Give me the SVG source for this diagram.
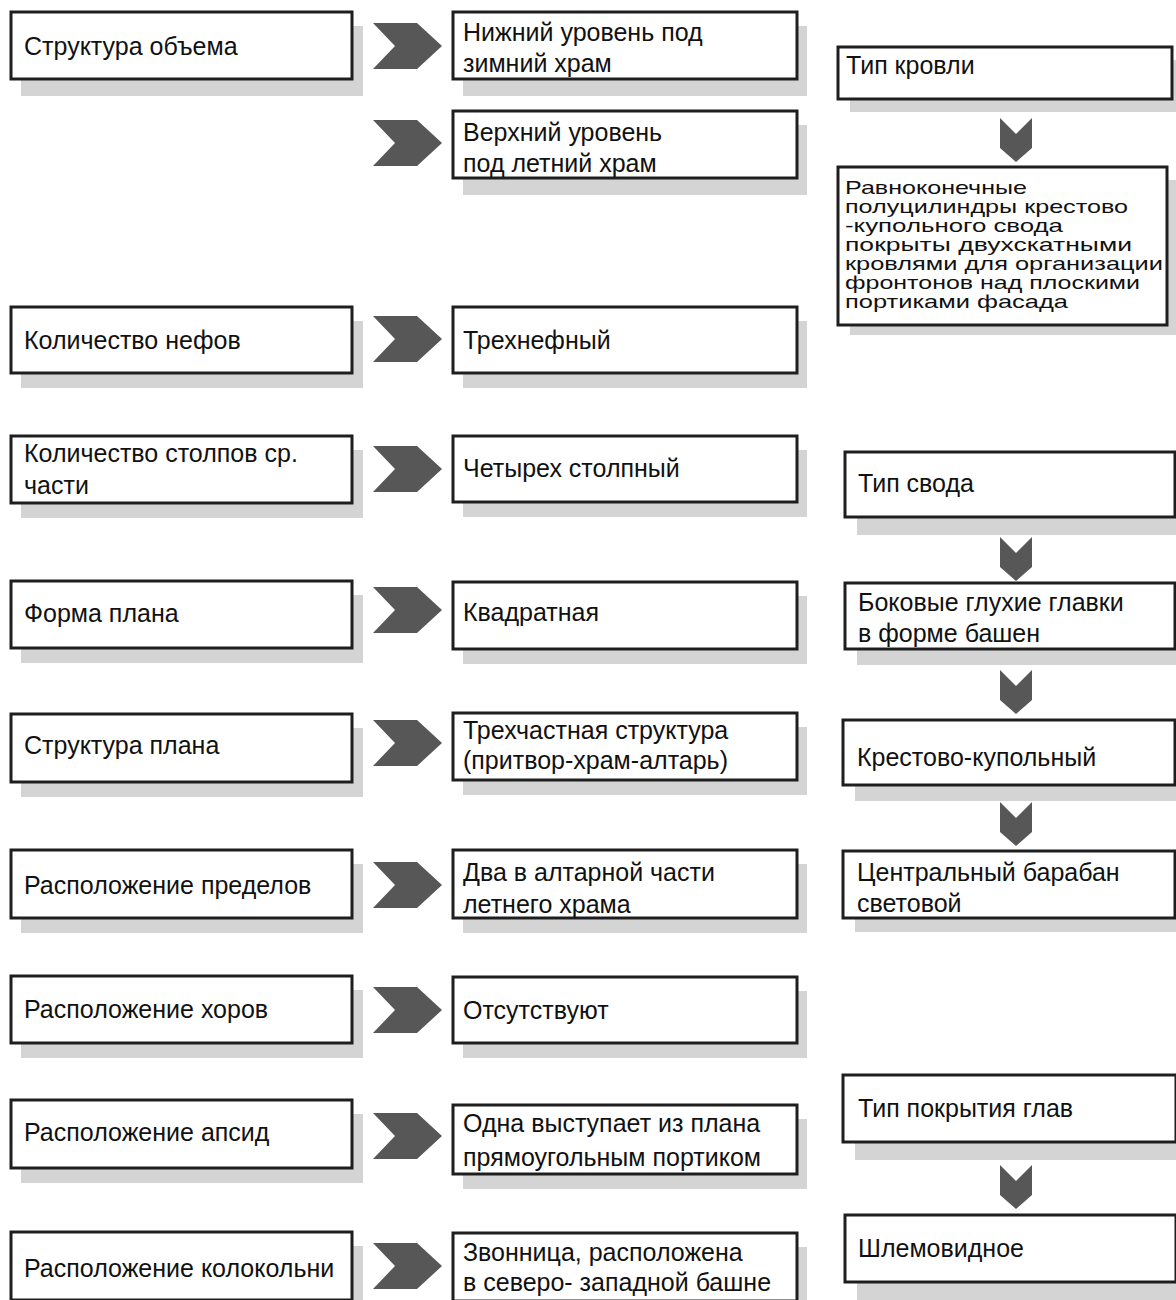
<svg xmlns="http://www.w3.org/2000/svg" width="1176" height="1300" viewBox="0 0 1176 1300">
<defs>
<style>
.sh{fill:#d4d4d4}
.bx{fill:#fff;stroke:#1e1e1e;stroke-width:3}
.t{font-family:"Liberation Sans","DejaVu Sans",sans-serif;font-size:25px;fill:#111}
.p{font-family:"Liberation Sans","DejaVu Sans",sans-serif;font-size:19px;fill:#111}
.ar{fill:#575757}
</style>
<path id="rc" d="M0 0H44L69 23L44 46H0L22 23Z"/>
<path id="dc" d="M0 0L16 16L32 0V30L16 44L0 30Z"/>
</defs>
<rect width="1176" height="1300" fill="#fff"/>

<g id="connectors" class="ar">
<use href="#rc" x="373" y="23"/>
<use href="#rc" x="373" y="120"/>
<use href="#rc" x="373" y="316"/>
<use href="#rc" x="373" y="446"/>
<use href="#rc" x="373" y="587"/>
<use href="#rc" x="373" y="720"/>
<use href="#rc" x="373" y="862"/>
<use href="#rc" x="373" y="987"/>
<use href="#rc" x="373" y="1113"/>
<use href="#rc" x="373" y="1243"/>
<use href="#dc" x="1000" y="118"/>
<use href="#dc" x="1000" y="537"/>
<use href="#dc" x="1000" y="670"/>
<use href="#dc" x="1000" y="802"/>
<use href="#dc" x="1000" y="1165"/>
</g>

<g id="l1"><rect class="sh" x="21" y="26" width="342" height="70"/><rect class="bx" x="11" y="12" width="341" height="67"/><text class="t" x="24" y="55">Структура объема</text></g>
<g id="l2"><rect class="sh" x="21" y="321" width="342" height="67"/><rect class="bx" x="11" y="307" width="341" height="66"/><text class="t" x="24" y="349">Количество нефов</text></g>
<g id="l3"><rect class="sh" x="21" y="450" width="342" height="68"/><rect class="bx" x="11" y="436" width="341" height="67"/><text class="t" x="24" y="462">Количество столпов ср.</text><text class="t" x="24" y="494">части</text></g>
<g id="l4"><rect class="sh" x="21" y="595" width="342" height="68"/><rect class="bx" x="11" y="581" width="341" height="67"/><text class="t" x="24" y="622">Форма плана</text></g>
<g id="l5"><rect class="sh" x="21" y="728" width="342" height="69"/><rect class="bx" x="11" y="714" width="341" height="68"/><text class="t" x="24" y="754">Структура плана</text></g>
<g id="l6"><rect class="sh" x="21" y="864" width="342" height="69"/><rect class="bx" x="11" y="850" width="341" height="68"/><text class="t" x="24" y="894">Расположение пределов</text></g>
<g id="l7"><rect class="sh" x="21" y="990" width="342" height="68"/><rect class="bx" x="11" y="976" width="341" height="67"/><text class="t" x="24" y="1018">Расположение хоров</text></g>
<g id="l8"><rect class="sh" x="21" y="1114" width="342" height="69"/><rect class="bx" x="11" y="1100" width="341" height="68"/><text class="t" x="24" y="1141">Расположение апсид</text></g>
<g id="l9"><rect class="sh" x="21" y="1246" width="342" height="69"/><rect class="bx" x="11" y="1232" width="341" height="68"/><text class="t" x="24" y="1277">Расположение колокольни</text></g>

<g id="m1"><rect class="sh" x="463" y="26" width="344" height="70"/><rect class="bx" x="453" y="12" width="344" height="67"/><text class="t" x="463" y="41">Нижний уровень под</text><text class="t" x="463" y="72">зимний храм</text></g>
<g id="m2"><rect class="sh" x="463" y="125" width="344" height="70"/><rect class="bx" x="453" y="111" width="344" height="67"/><text class="t" x="463" y="141">Верхний уровень</text><text class="t" x="463" y="172">под летний храм</text></g>
<g id="m3"><rect class="sh" x="463" y="321" width="344" height="67"/><rect class="bx" x="453" y="307" width="344" height="66"/><text class="t" x="463" y="349">Трехнефный</text></g>
<g id="m4"><rect class="sh" x="463" y="450" width="344" height="67"/><rect class="bx" x="453" y="436" width="344" height="66"/><text class="t" x="463" y="477">Четырех столпный</text></g>
<g id="m5"><rect class="sh" x="463" y="596" width="344" height="68"/><rect class="bx" x="453" y="582" width="344" height="67"/><text class="t" x="463" y="621">Квадратная</text></g>
<g id="m6"><rect class="sh" x="463" y="727" width="344" height="68"/><rect class="bx" x="453" y="713" width="344" height="67"/><text class="t" x="463" y="739">Трехчастная структура</text><text class="t" x="463" y="769">(притвор-храм-алтарь)</text></g>
<g id="m7"><rect class="sh" x="463" y="864" width="344" height="69"/><rect class="bx" x="453" y="850" width="344" height="68"/><text class="t" x="463" y="881">Два в алтарной части</text><text class="t" x="463" y="913">летнего храма</text></g>
<g id="m8"><rect class="sh" x="463" y="991" width="344" height="67"/><rect class="bx" x="453" y="977" width="344" height="66"/><text class="t" x="463" y="1019">Отсутствуют</text></g>
<g id="m9"><rect class="sh" x="463" y="1119" width="344" height="70"/><rect class="bx" x="453" y="1105" width="344" height="69"/><text class="t" x="463" y="1132">Одна выступает из плана</text><text class="t" x="463" y="1166">прямоугольным портиком</text></g>
<g id="m10"><rect class="sh" x="463" y="1247" width="344" height="69"/><rect class="bx" x="453" y="1233" width="344" height="68"/><text class="t" x="463" y="1261">Звонница, расположена</text><text class="t" x="463" y="1291">в северо- западной башне</text></g>

<g id="r1"><rect class="sh" x="850" y="60" width="334" height="52"/><rect class="bx" x="838" y="47" width="334" height="52"/><text class="t" x="846" y="74">Тип кровли</text></g>
<g id="r2"><rect class="sh" x="850" y="180" width="334" height="155"/><rect class="bx" x="838" y="167" width="329" height="158"/>
<text class="p" x="845" y="194" textLength="182" lengthAdjust="spacingAndGlyphs">Равноконечные</text>
<text class="p" x="845" y="213" textLength="283" lengthAdjust="spacingAndGlyphs">полуцилиндры крестово</text>
<text class="p" x="845" y="232" textLength="218" lengthAdjust="spacingAndGlyphs">-купольного свода</text>
<text class="p" x="845" y="251" textLength="287" lengthAdjust="spacingAndGlyphs">покрыты  двухскатными</text>
<text class="p" x="845" y="270" textLength="318" lengthAdjust="spacingAndGlyphs">кровлями для организации</text>
<text class="p" x="845" y="289" textLength="295" lengthAdjust="spacingAndGlyphs">фронтонов над плоскими</text>
<text class="p" x="845" y="308" textLength="223" lengthAdjust="spacingAndGlyphs">портиками фасада</text></g>
<g id="r3"><rect class="sh" x="857" y="466" width="330" height="69"/><rect class="bx" x="845" y="452" width="330" height="65"/><text class="t" x="858" y="492">Тип свода</text></g>
<g id="r4"><rect class="sh" x="857" y="597" width="330" height="68"/><rect class="bx" x="845" y="583" width="330" height="66"/><text class="t" x="858" y="611">Боковые глухие главки</text><text class="t" x="858" y="642">в форме башен</text></g>
<g id="r5"><rect class="sh" x="855" y="734" width="332" height="67"/><rect class="bx" x="843" y="720" width="332" height="65"/><text class="t" x="857" y="766">Крестово-купольный</text></g>
<g id="r6"><rect class="sh" x="855" y="865" width="332" height="67"/><rect class="bx" x="843" y="851" width="332" height="67"/><text class="t" x="857" y="881">Центральный барабан</text><text class="t" x="857" y="912">световой</text></g>
<g id="r7"><rect class="sh" x="855" y="1090" width="333" height="70"/><rect class="bx" x="843" y="1075" width="333" height="67"/><text class="t" x="858" y="1117">Тип покрытия глав</text></g>
<g id="r8"><rect class="sh" x="857" y="1230" width="331" height="70"/><rect class="bx" x="845" y="1215" width="331" height="67"/><text class="t" x="858" y="1257">Шлемовидное</text></g>
</svg>
